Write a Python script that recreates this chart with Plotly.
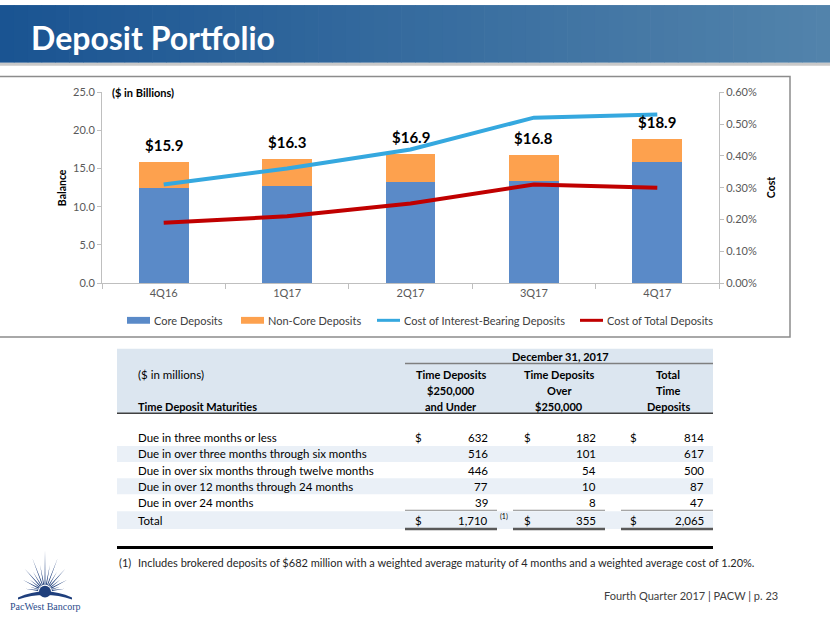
import math
import plotly.graph_objects as go

W, H = 830, 623
def X(x): return x / W
def Y(y): return 1 - y / H

# ---------------- data ----------------
quarters = ["4Q16", "1Q17", "2Q17", "3Q17", "4Q17"]
core_deposits = [12.5, 12.7, 13.2, 13.4, 15.9]
noncore_deposits = [3.4, 3.6, 3.7, 3.4, 3.0]
total_deposits = [15.9, 16.3, 16.9, 16.8, 18.9]
cost_interest_bearing = [0.0031, 0.0036, 0.0042, 0.0052, 0.0053]
cost_total = [0.0019, 0.0021, 0.0025, 0.0031, 0.0030]

row_labels = ["Due in three months or less",
              "Due in over three months through six months",
              "Due in over six months through twelve months",
              "Due in over 12 months through 24 months",
              "Due in over 24 months"]
under_250k = [632, 516, 446, 77, 39]
over_250k = [182, 101, 54, 10, 8]
total_time = [814, 617, 500, 87, 47]
column_totals = [1710, 355, 2065]

FONT = "Lato"
GRAY = "#595959"

fig = go.Figure()
fig.add_bar(x=quarters, y=core_deposits, name="Core Deposits",
            marker=dict(color="#5a8ac8", line=dict(width=0)))
fig.add_bar(x=quarters, y=noncore_deposits, name="Non-Core Deposits",
            marker=dict(color="#fda14e", line=dict(width=0)))
fig.add_scatter(x=quarters, y=cost_interest_bearing, yaxis="y2", mode="lines",
                name="Cost of Interest-Bearing Deposits",
                line=dict(color="#35a8df", width=4))
fig.add_scatter(x=quarters, y=cost_total, yaxis="y2", mode="lines",
                name="Cost of Total Deposits",
                line=dict(color="#c00000", width=4))

shapes = []
annotations = []

# header banner gradient
n = 60
c0 = (0x1a, 0x54, 0x92)
c1 = (0x52, 0x83, 0xab)
for i in range(n):
    t = i / (n - 1)
    col = "rgb(%d,%d,%d)" % tuple(round(a + (b - a) * t) for a, b in zip(c0, c1))
    shapes.append(dict(type="rect", xref="paper", yref="paper",
                       x0=X(i * W / n), x1=X((i + 1) * W / n + 0.7),
                       y0=Y(57), y1=Y(-2), fillcolor=col, line=dict(width=0), layer="below"))
shapes.append(dict(type="rect", xref="paper", yref="paper", x0=0, x1=1, y0=Y(60), y1=Y(57),
                   fillcolor="#c9c9c9", line=dict(width=0), layer="below"))
annotations.append(dict(xref="paper", yref="paper", x=X(29), y=Y(31), xanchor="left", yanchor="middle",
                        text="<b>Deposit Portfolio</b>", showarrow=False,
                        font=dict(family=FONT, size=32, color="white")))

# chart box
shapes.append(dict(type="rect", xref="paper", yref="paper", x0=X(-5), x1=X(790), y0=Y(337), y1=Y(71),
                   line=dict(color="#8c8c8c", width=1.5), fillcolor="rgba(0,0,0,0)", layer="below"))

# data labels
for q, t in zip(quarters, total_deposits):
    annotations.append(dict(x=q, y=t, xref="x", yref="y", yshift=17, showarrow=False,
                            xanchor="center", yanchor="middle",
                            text="<b>$%.1f</b>" % t, font=dict(family=FONT, size=15, color="black")))

annotations.append(dict(xref="paper", yref="paper", x=X(110), y=Y(87), xanchor="left", yanchor="middle",
                        text="<b>($ in Billions)</b>", showarrow=False,
                        font=dict(family=FONT, size=11, color="black")))
annotations.append(dict(xref="paper", yref="paper", x=X(62), y=Y(185), textangle=-90, showarrow=False,
                        xanchor="center", yanchor="middle",
                        text="<b>Balance</b>", font=dict(family=FONT, size=10.5, color="black")))
annotations.append(dict(xref="paper", yref="paper", x=X(771), y=Y(185), textangle=-90, showarrow=False,
                        xanchor="center", yanchor="middle",
                        text="<b>Cost</b>", font=dict(family=FONT, size=10.5, color="black")))

# manual legend
leg_y = 320
legend_items = [("Core Deposits", "#5a8ac8", "bar", 127),
                ("Non-Core Deposits", "#fda14e", "bar", 241),
                ("Cost of Interest-Bearing Deposits", "#35a8df", "line", 377),
                ("Cost of Total Deposits", "#c00000", "line", 580)]
for name, col, kind, x0 in legend_items:
    if kind == "bar":
        shapes.append(dict(type="rect", xref="paper", yref="paper", x0=X(x0), x1=X(x0 + 23),
                           y0=Y(leg_y + 3.5), y1=Y(leg_y - 3.5), fillcolor=col, line=dict(width=0)))
    else:
        shapes.append(dict(type="line", xref="paper", yref="paper", x0=X(x0), x1=X(x0 + 23),
                           y0=Y(leg_y), y1=Y(leg_y), line=dict(color=col, width=3)))
    annotations.append(dict(xref="paper", yref="paper", x=X(x0 + 25), y=Y(leg_y), xanchor="left",
                            yanchor="middle", text=name, showarrow=False,
                            font=dict(family=FONT, size=11, color="#404040")))

# ---------------- table ----------------
TL, TR = 117, 713
shapes.append(dict(type="rect", xref="paper", yref="paper", x0=X(TL), x1=X(TR), y0=Y(415), y1=Y(349),
                   fillcolor="#dce6f0", line=dict(width=0), layer="below"))
shapes.append(dict(type="line", xref="paper", yref="paper", x0=X(405), x1=X(TR), y0=Y(364), y1=Y(364),
                   line=dict(color="#7f7f7f", width=1.5)))
shapes.append(dict(type="line", xref="paper", yref="paper", x0=X(TL), x1=X(TR), y0=Y(415), y1=Y(415),
                   line=dict(color="#404040", width=1.5)))
row_y = [440, 456.5, 473, 489.5, 506]
total_y = 524
for i in (1, 3):
    shapes.append(dict(type="rect", xref="paper", yref="paper", x0=X(TL), x1=X(TR),
                       y0=Y(row_y[i] + 8.25), y1=Y(row_y[i] - 8.25),
                       fillcolor="#eaf0f7", line=dict(width=0), layer="below"))
shapes.append(dict(type="rect", xref="paper", yref="paper", x0=X(TL), x1=X(TR),
                   y0=Y(533), y1=Y(515), fillcolor="#eaf0f7", line=dict(width=0), layer="below"))
segs = [(405, 497), (513, 605), (621, TR)]
for a, b in segs:
    shapes.append(dict(type="line", xref="paper", yref="paper", x0=X(a), x1=X(b), y0=Y(514), y1=Y(514),
                       line=dict(color="#8c8c8c", width=1)))
    shapes.append(dict(type="line", xref="paper", yref="paper", x0=X(a), x1=X(b), y0=Y(533), y1=Y(533),
                       line=dict(color="#595959", width=2.5)))
shapes.append(dict(type="line", xref="paper", yref="paper", x0=X(TL), x1=X(TR), y0=Y(552), y1=Y(552),
                   line=dict(color="black", width=3)))

def txt(x, y, s, anchor="left", size=11.5, bold=False, color="black", family=FONT):
    annotations.append(dict(xref="paper", yref="paper", x=X(x), y=Y(y), xanchor=anchor, yanchor="middle",
                            text=("<b>%s</b>" % s) if bold else s, showarrow=False,
                            font=dict(family=family, size=size, color=color)))

txt(560, 357, "December 31, 2017", "center", 11, True)
txt(136, 375, "($ in millions)", "left", 11.5)
txt(136, 408, "Time Deposit Maturities", "left", 11, True)
heads = [(451, ["Time Deposits", "$250,000", "and Under"]),
         (559, ["Time Deposits", "Over", "$250,000"]),
         (668, ["Total", "Time", "Deposits"])]
for cx, lines in heads:
    for yy, s in zip([375, 391.5, 408], lines):
        txt(cx, yy, s, "center", 11, True)

num_right = [490, 598, 706]
dollar_x = [413, 522, 628]
for i, lab in enumerate(row_labels):
    y = row_y[i]
    txt(136, y, lab)
    for j, v in enumerate([under_250k[i], over_250k[i], total_time[i]]):
        txt(num_right[j], y, "{:,}".format(v), "right")
        if i == 0:
            txt(dollar_x[j], y, "$")
txt(136, total_y, "Total")
for j, v in enumerate(column_totals):
    txt(num_right[j], total_y, "{:,}".format(v), "right")
    txt(dollar_x[j], total_y, "$")
txt(498, total_y - 4, "(1)", "left", 7)

# footnote & footer
txt(117, 567, "(1)", "left", 11, color="#262626")
txt(136, 567, "Includes brokered deposits of $682 million with a weighted average maturity of 4 months "
              "and a weighted average cost of 1.20%.", "left", 11, color="#262626")
txt(780, 601, "Fourth Quarter 2017 | PACW | p. 23", "right", 11, color="#404040")

# logo (starburst)
cx, cy = 45, 597
pts = []
nr = 17
for k in range(nr):
    ang = math.radians(188 + k * (164 / (nr - 1)))
    mid = abs(k - (nr - 1) / 2) / ((nr - 1) / 2)
    L = (42 - 22 * mid) * (1.0 if k % 2 == 0 else 0.7)
    w = math.radians(4.0)
    r0 = 7
    bx1 = cx + r0 * math.cos(ang - w); by1 = cy + r0 * math.sin(ang - w)
    tx = cx + L * math.cos(ang); ty = cy + L * math.sin(ang)
    bx2 = cx + r0 * math.cos(ang + w); by2 = cy + r0 * math.sin(ang + w)
    pts.append("M%f,%f L%f,%f L%f,%f Z" % (X(bx1), Y(by1), X(tx), Y(ty), X(bx2), Y(by2)))
shapes.append(dict(type="path", xref="paper", yref="paper", path=" ".join(pts),
                   fillcolor="#1f3f7c", line=dict(width=0)))
base = "M%f,%f Q%f,%f %f,%f L%f,%f Q%f,%f %f,%f Z" % (
    X(18), Y(603), X(45), Y(591), X(72), Y(603), X(72), Y(605), X(45), Y(596), X(18), Y(605))
shapes.append(dict(type="path", xref="paper", yref="paper", path=base, fillcolor="#1f3f7c",
                   line=dict(width=0)))
shapes.append(dict(type="circle", xref="paper", yref="paper", x0=X(39), x1=X(51), y0=Y(603), y1=Y(591),
                   fillcolor="#1f3f7c", line=dict(width=0)))
txt(45, 612, "PacWest Bancorp", "center", 10, color="#2b4c8c", family="Liberation Serif")

axis_font = dict(family=FONT, size=11, color=GRAY)
fig.update_layout(
    width=W, height=H, margin=dict(l=0, r=0, t=0, b=0),
    paper_bgcolor="white", plot_bgcolor="white",
    barmode="stack", bargap=0.595, showlegend=False,
    font=dict(family=FONT),
    xaxis=dict(domain=[X(102), X(719)], range=[-0.5, 4.5], showline=True, linecolor="#bfbfbf",
               linewidth=1, ticks="outside", tickson="boundaries", ticklen=5, tickcolor="#bfbfbf",
               tickfont=axis_font, showgrid=False, fixedrange=True),
    yaxis=dict(domain=[Y(282), Y(87)], range=[0, 25], dtick=5, tickformat=".1f", showgrid=False,
               zeroline=False, showline=True, linecolor="#bfbfbf", ticks="outside", ticklen=4,
               tickcolor="#bfbfbf", tickfont=axis_font),
    yaxis2=dict(overlaying="y", side="right", anchor="x", range=[0, 0.006], dtick=0.001,
                tickformat=".2%", showgrid=False, zeroline=False, showline=True, linecolor="#bfbfbf",
                ticks="outside", ticklen=4, tickcolor="#bfbfbf", tickfont=axis_font),
    shapes=shapes, annotations=annotations,
)
fig.write_html("out.html", config={"displayModeBar": False},
               post_script="document.body.style.margin='0';document.body.style.overflow='hidden';")
